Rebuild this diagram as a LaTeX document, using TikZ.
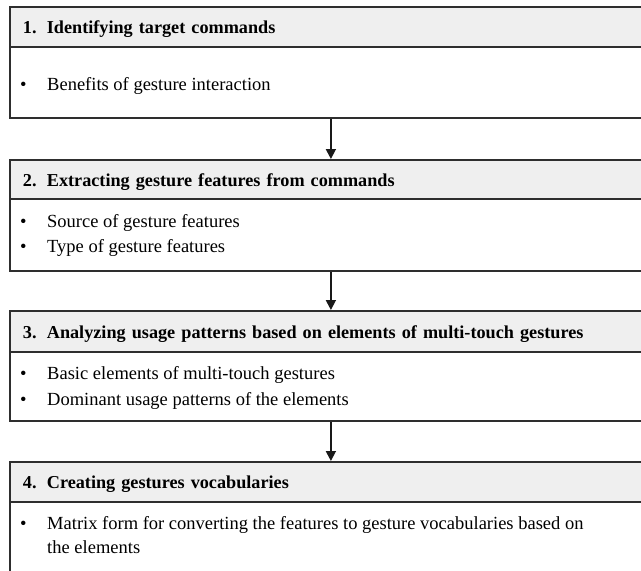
\documentclass[tikz,border=0pt]{standalone}
\usepackage{fontspec}
\setmainfont{Liberation Serif}
\usetikzlibrary{arrows.meta}
\definecolor{edgec}{HTML}{2E2E2E}
\definecolor{headc}{HTML}{EFEFEF}
\tikzset{
  headbox/.style={draw=edgec, line width=1.8pt, fill=headc, rectangle, anchor=north west,
    minimum width=642pt, minimum height=#1, text width=616pt, inner xsep=13pt, inner ysep=0pt,
    text height=14pt, text depth=0pt,
    align=left, font=\fontsize{18.2}{23}\selectfont\bfseries},
  bodybox/.style={draw=edgec, line width=1.8pt, fill=white, rectangle, anchor=north west,
    minimum width=642pt, minimum height=#1, inner sep=0pt},
  bul/.style={anchor=base west, inner sep=0pt, font=\fontsize{18.5}{23}\selectfont},
  btxt/.style={anchor=base west, inner sep=0pt, font=\fontsize{18.5}{24.5}\selectfont},
  flow/.style={draw=black!90, line width=1.8pt, -{Triangle[length=10pt,width=10pt]}}
}
\newcommand{\numlab}[1]{\makebox[24pt][l]{#1}}
\begin{document}
\begin{tikzpicture}[x=1pt,y=-1pt]
\useasboundingbox (0,0) rectangle (641,571);
\clip (0,0) rectangle (641,571);
% box 1
\node[bodybox=71pt] (b1) at (9,46) {};
\node[headbox=40pt] (h1) at (9,6) {\numlab{1.}Identifying target commands};
\node[bul] (b1d1) at (20,90.5) {•};
\node[btxt] (b1t1) at (47,90.5) {Benefits of gesture interaction};
% box 2
\node[bodybox=72pt] (b2) at (9,198) {};
\node[headbox=39pt] (h2) at (9,159) {\numlab{2.}Extracting gesture features from commands};
\node[bul] (b2d1) at (20,227) {•};
\node[btxt] (b2t1) at (47,227) {Source of gesture features};
\node[bul] (b2d2) at (20,252.5) {•};
\node[btxt] (b2t2) at (47,252.5) {Type of gesture features};
% box 3
\node[bodybox=69pt] (b3) at (9,351) {};
\node[headbox=41pt] (h3) at (9,310) {\numlab{3.}Analyzing usage patterns based on elements of multi-touch gestures};
\node[bul] (b3d1) at (20,379) {•};
\node[btxt] (b3t1) at (47,379) {Basic elements of multi-touch gestures};
\node[bul] (b3d2) at (20,405) {•};
\node[btxt] (b3t2) at (47,405) {Dominant usage patterns of the elements};
% box 4
\node[bodybox=100pt] (b4) at (9,501) {};
\node[headbox=40pt] (h4) at (9,461) {\numlab{4.}Creating gestures vocabularies};
\node[bul] (b4d1) at (20,529) {•};
\node[btxt] (b4t1) at (47,529) {\begin{tabular}[t]{@{}l@{}}Matrix form for converting the features to gesture vocabularies based on\\the elements\end{tabular}};
% arrows
\draw[flow] (b1.south) -- (h2.north);
\draw[flow] (b2.south) -- (h3.north);
\draw[flow] (b3.south) -- (h4.north);
\end{tikzpicture}
\end{document}
